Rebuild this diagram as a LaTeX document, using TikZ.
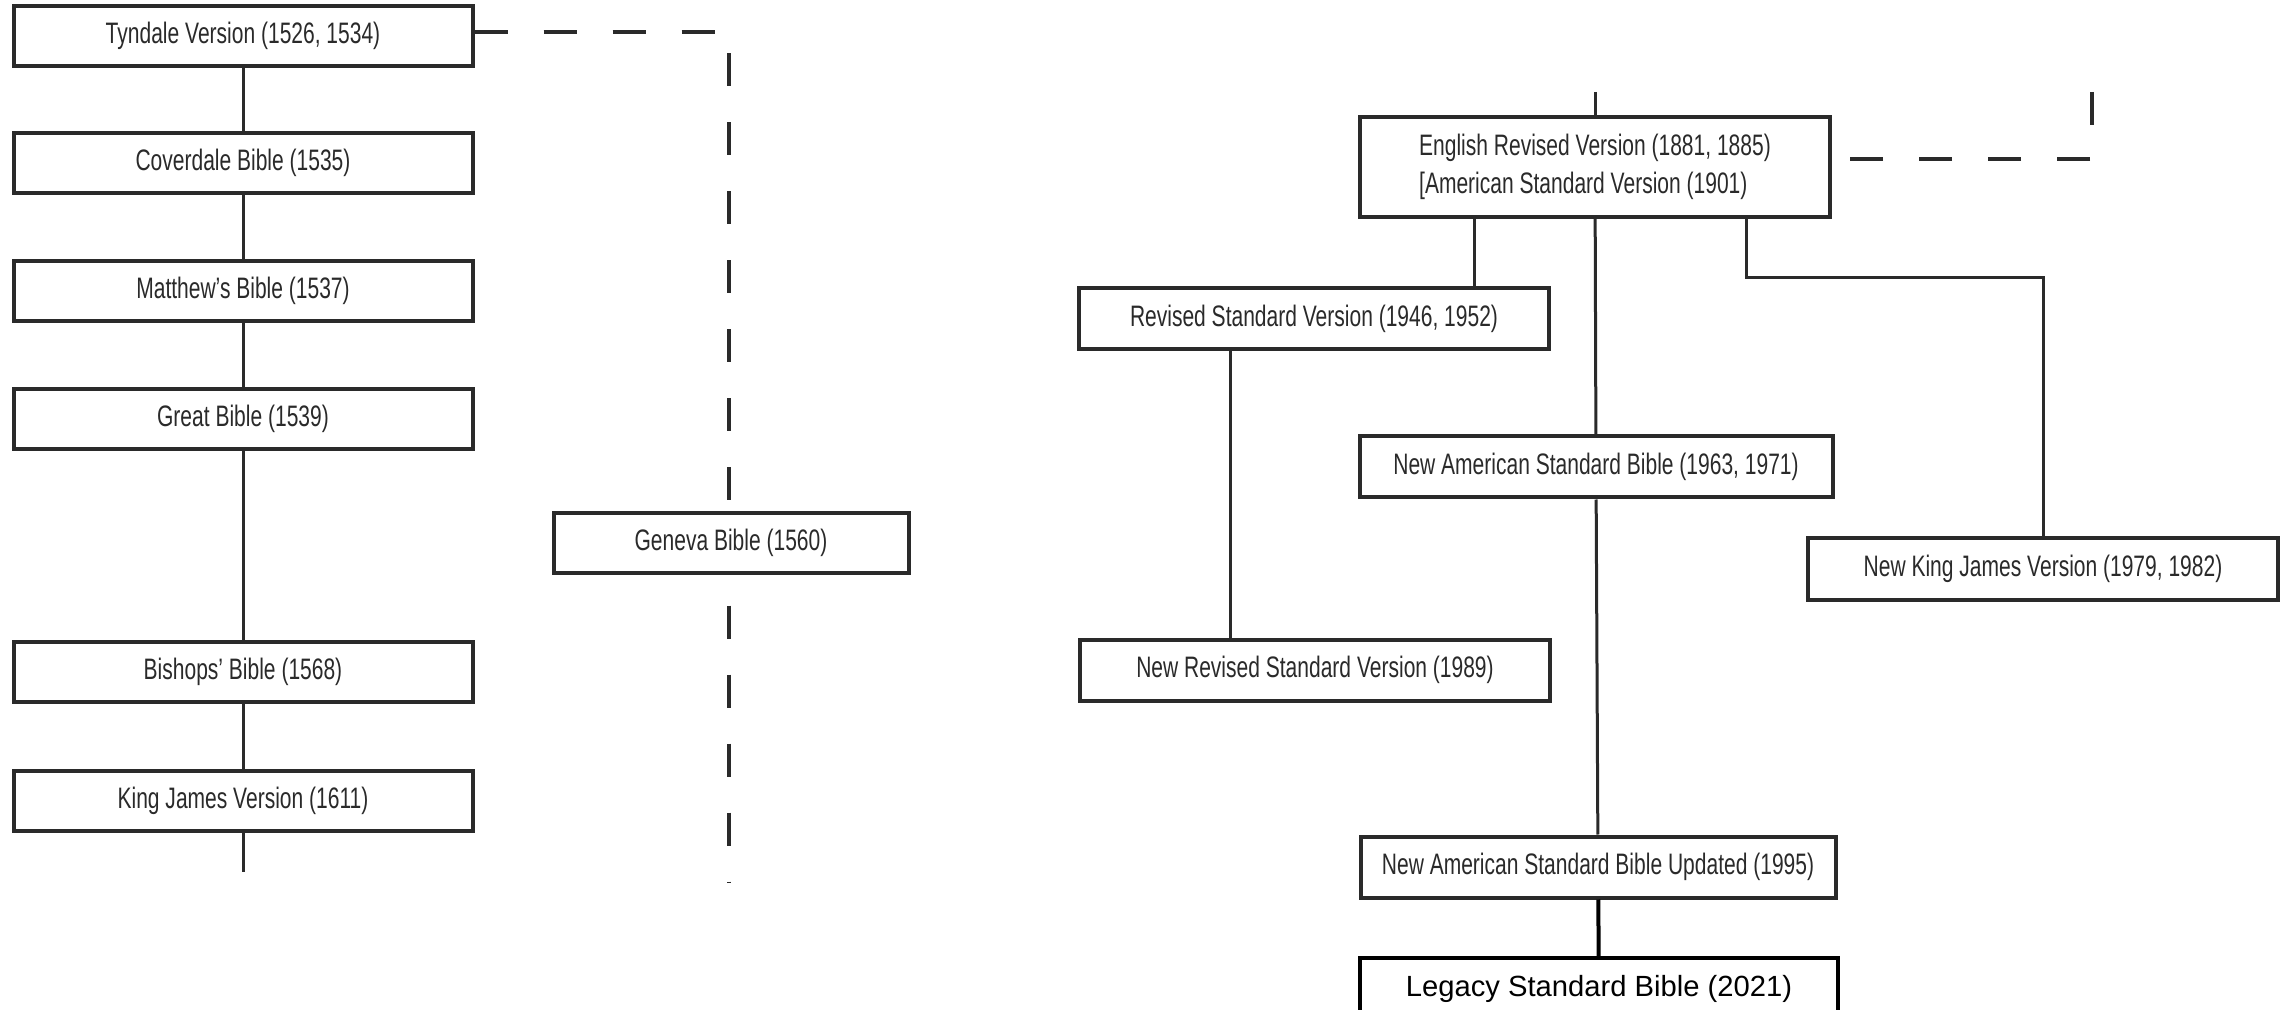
\documentclass[tikz,border=0pt]{standalone}
\usepackage{fontspec}
\setmainfont{Liberation Sans}
\newfontfamily\condfont[FakeStretch=0.71]{Liberation Sans}
\definecolor{inkgray}{HTML}{2A2A2A}

\begin{document}
\begin{tikzpicture}
[x=0.5pt,y=-0.5pt,
  boxDecorate/.style={draw=inkgray,line width=2pt,fill=white,text=inkgray,inner sep=0pt,%
    font=\condfont\fontsize{14.8}{19}\selectfont,minimum height=30pt},
  lineDecorate/.style={draw=inkgray,line width=1.5pt},
  dashDecorate/.style={draw=inkgray,line width=2.2pt,dash pattern=on 16.5pt off 18pt}]
\path[use as bounding box,fill=white] (0,0) rectangle (2287,1010);

%% left column
\foreach \nodename/\x/\y/\label in {
  tyndale/243/36/{Tyndale Version (1526, 1534)},
  coverdale/243/163/{Coverdale Bible (1535)},
  matthew/243/291/{Matthew’s Bible (1537)},
  great/243/419/{Great Bible (1539)},
  bishops/243/672/{Bishops’ Bible (1568)},
  kjv/243/801/{King James Version (1611)}}
{
  \node (\nodename) at (\x,\y) [boxDecorate,minimum width=229.5pt] {\label};
}
\coordinate (kjvend) at (243,872);
\path[lineDecorate]
\foreach \startnode/\endnode in {
  tyndale/coverdale, coverdale/matthew, matthew/great,
  great/bishops, bishops/kjv, kjv/kjvend}
{
  (\startnode) edge (\endnode)
};

%% Geneva branch (dashed)
\coordinate (genevaend) at (729,882);
\draw[dashDecorate] ([yshift=2pt]tyndale.east) -| (genevaend);
\node (geneva) at (731,543) [boxDecorate,minimum width=177.5pt] {Geneva Bible (1560)};

%% right column
\node (erv) at (1595,167) [boxDecorate,minimum width=235pt,minimum height=50pt,align=left]
  {English Revised Version (1881, 1885)\\\relax [American Standard Version (1901)};
\foreach \nodename/\x/\y/\w/\label in {
  rsv/1314/319/235/{Revised Standard Version (1946, 1952)},
  nasb/1596/467/236.5/{New American Standard Bible (1963, 1971)},
  nkjv/2043/569/235/{New King James Version (1979, 1982)},
  nrsv/1315/670/235/{New Revised Standard Version (1989)},
  nasbu/1598/867/237.5/{New American Standard Bible Updated (1995)}}
{
  \node (\nodename) at (\x,\y) [boxDecorate,minimum width=\w pt,minimum height=30.5pt] {\label};
}
\node (lsb) at (1599,956) [anchor=north,draw=black,line width=2pt,fill=white,inner sep=0pt,
  minimum width=239pt,minimum height=31pt,font=\fontsize{14.6}{17}\selectfont]
  {Legacy Standard Bible (2021)};

%% connectors on the right
\coordinate (ervtop) at (1595,92);
\coordinate (genevatop) at (2092,92);
\coordinate (rsvjoin) at (1474,0);
\coordinate (nrsvjoin) at (1230,0);
\coordinate (nkjvbend) at (1746,278);
\draw[dashDecorate] (genevatop) |- ([yshift=4pt]erv.east);
\draw[lineDecorate] (ervtop) -- (erv.north);
\draw[lineDecorate] (erv.south -| rsvjoin) -- (rsv.north -| rsvjoin);
\draw[lineDecorate] (erv) -- (nasb);
\draw[lineDecorate] (erv.south -| nkjvbend) |- (nkjv.north |- nkjvbend) -- (nkjv.north);
\draw[lineDecorate] (rsv.south -| nrsvjoin) -- (nrsv.north -| nrsvjoin);
\draw[lineDecorate] (nasb) -- (nasbu);
\draw[lineDecorate,draw=black,line width=2pt] (nasbu) -- (lsb);
\end{tikzpicture}
\end{document}
